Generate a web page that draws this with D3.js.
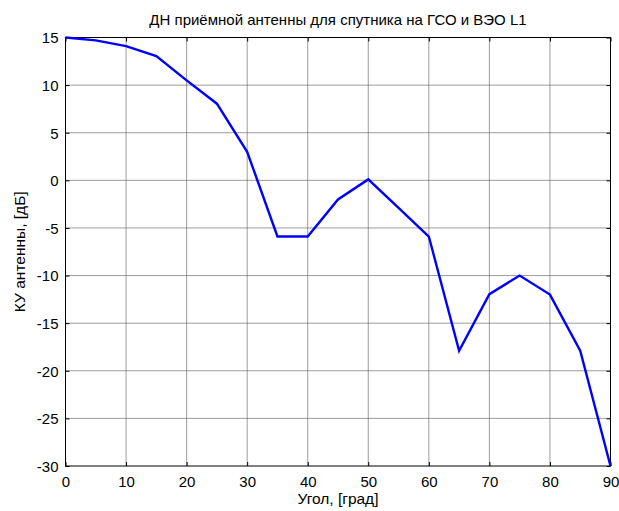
<!DOCTYPE html>
<html>
<head>
<meta charset="utf-8">
<script src="https://cdn.jsdelivr.net/npm/d3@7"></script>
<style>
  html, body { margin: 0; padding: 0; background: #fff; }
  svg { display: block; font-family: "Liberation Sans", Arial, sans-serif; }
</style>
</head>
<body>
<svg id="chart" width="619" height="511"></svg>
<script>
// Antenna gain pattern vs elevation angle
const angles = [0, 5, 10, 15, 20, 25, 30, 35, 40, 45, 50, 55, 60, 65, 70, 75, 80, 85, 90];
const gainDb = [15, 14.7, 14.1, 13.05, 10.5, 8.05, 3, -5.9, -5.9, -2, 0.1, -2.9, -5.9, -17.9, -11.95, -10, -12, -17.9, -30];
const xTicks = [0, 10, 20, 30, 40, 50, 60, 70, 80, 90];
const yTicks = [15, 10, 5, 0, -5, -10, -15, -20, -25, -30];

const titleText = "ДН приёмной антенны для спутника на ГСО и ВЭО L1";
const xLabel = "Угол, [град]";
const yLabel = "КУ антенны, [дБ]";

const margin = { left: 65.5, right: 8.5, top: 37.5, bottom: 45 };
const W = 619, H = 511;
const svg = d3.select("#chart");

const x = d3.scaleLinear().domain([0, 90]).range([margin.left, W - margin.right]);
const y = d3.scaleLinear().domain([-30, 15]).range([H - margin.bottom, margin.top]);

const x0 = x.range()[0], x1 = x.range()[1];
const yB = y.range()[0], yT = y.range()[1];

// plain hyphen-minus labels
const fmt = d => String(d);

// grid
const grid = svg.append("g").attr("stroke", "#4a4a4a").attr("stroke-opacity", 0.55).attr("stroke-width", 1);
grid.selectAll(".gx").data(xTicks.slice(1, -1)).join("line")
  .attr("x1", d => x(d)).attr("x2", d => x(d)).attr("y1", yT).attr("y2", yB);
grid.selectAll(".gy").data(yTicks.slice(1, -1)).join("line")
  .attr("y1", d => y(d)).attr("y2", d => y(d)).attr("x1", x0).attr("x2", x1);

// axes with inward ticks
const tickLen = 4;
const axB = svg.append("g").attr("transform", `translate(0,${yB})`)
  .call(d3.axisBottom(x).tickValues(xTicks).tickFormat(fmt).tickSizeInner(-tickLen).tickSizeOuter(0).tickPadding(10));
const axT = svg.append("g").attr("transform", `translate(0,${yT})`)
  .call(d3.axisTop(x).tickValues(xTicks).tickSizeInner(-tickLen).tickSizeOuter(0).tickFormat(""));
const axL = svg.append("g").attr("transform", `translate(${x0},0)`)
  .call(d3.axisLeft(y).tickValues(yTicks).tickFormat(fmt).tickSizeInner(-tickLen).tickSizeOuter(0).tickPadding(7));
const axR = svg.append("g").attr("transform", `translate(${x1},0)`)
  .call(d3.axisRight(y).tickValues(yTicks).tickSizeInner(-tickLen).tickSizeOuter(0).tickFormat(""));

[axB, axT, axL, axR].forEach(a => {
  a.select(".domain").remove();
  a.selectAll(".tick line").attr("stroke", "#000");
  a.selectAll("text").attr("fill", "#000").attr("font-size", 15)
    .attr("font-family", "'Liberation Sans', Arial, sans-serif");
});
axL.selectAll("text").attr("dy", "0.36em");

// box
svg.append("rect").attr("x", x0).attr("y", yT).attr("width", x1 - x0).attr("height", yB - yT)
  .attr("fill", "none").attr("stroke", "#000").attr("stroke-width", 1);

// data line
const line = d3.line().x((d, i) => x(angles[i])).y(d => y(d));
svg.append("path").datum(gainDb).attr("d", line)
  .attr("fill", "none").attr("stroke", "#0000ff").attr("stroke-width", 2.4)
  .attr("stroke-linejoin", "miter");

// labels
svg.append("text").attr("x", (x0 + x1) / 2).attr("y", 25).attr("text-anchor", "middle")
  .attr("font-size", 15).attr("fill", "#000").text(titleText);
svg.append("text").attr("x", (x0 + x1) / 2).attr("y", 504).attr("text-anchor", "middle")
  .attr("font-size", 15.5).attr("fill", "#000").text(xLabel);
svg.append("text").attr("transform", `translate(25,${(yT + yB) / 2}) rotate(-90)`)
  .attr("text-anchor", "middle").attr("font-size", 15.5).attr("fill", "#000").text(yLabel);
</script>
</body>
</html>
